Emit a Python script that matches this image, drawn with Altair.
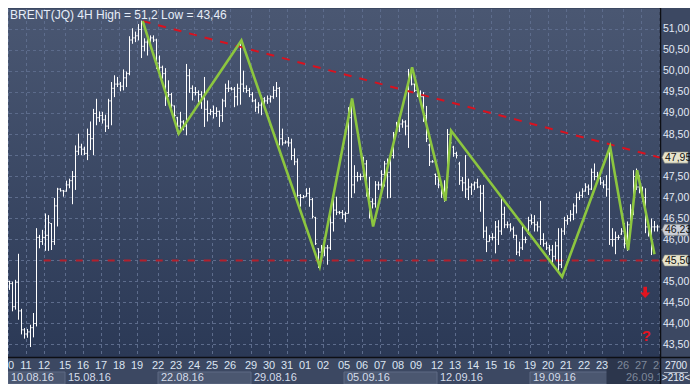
import altair as alt
import pandas as pd

W, H = 652, 348
RP = 30  # right panel width
FONT = "Liberation Sans Narrow, Liberation Sans, Arial"

# ---------------- data (4H bars) ----------------
highs = [45.02,45.00,45.04,45.66,44.35,43.89,43.87,43.97,44.25,46.27,
         46.11,46.23,46.62,46.58,46.39,46.99,47.23,47.22,47.18,47.40,
         47.45,47.63,48.24,48.52,48.28,48.21,48.64,48.81,49.11,49.35,
         49.05,49.04,48.97,49.35,49.75,49.91,49.87,49.75,50.05,50.00,
         50.84,51.03,50.95,51.13,51.21,50.79,50.89,50.86,50.86,50.78,
         50.38,50.14,50.08,49.79,49.49,49.19,48.92,49.04,48.84,50.18,
         50.06,49.67,49.63,49.55,49.53,49.87,49.31,49.11,49.19,49.15,
         49.07,49.35,49.71,49.79,49.63,49.63,49.71,50.71,50.02,49.67,
         49.61,49.51,49.35,49.27,49.43,49.39,49.43,49.43,49.65,49.75,
         49.63,48.64,48.36,48.44,48.40,48.17,47.93,47.08,47.06,47.22,
         47.23,46.99,46.54,45.79,45.87,45.99,45.87,46.58,46.98,47.02,
         46.68,46.70,46.66,49.15,49.35,47.77,47.61,47.57,47.97,47.89,
         47.49,46.98,47.39,47.38,47.65,47.87,47.93,48.05,48.56,48.80,
         48.88,48.86,48.84,50.06,50.06,49.71,49.57,49.55,49.51,49.18,
         48.28,47.89,47.57,47.61,47.30,47.41,48.63,48.56,48.23,48.09,
         47.85,47.49,48.01,47.45,47.34,47.38,47.45,47.30,47.30,46.31,
         46.11,46.15,46.44,46.46,46.99,46.78,46.43,46.39,46.31,46.11,
         45.95,46.35,46.07,46.54,46.60,46.58,46.43,46.92,46.15,45.95,
         45.87,45.87,45.95,46.27,46.27,46.54,46.58,46.70,46.86,47.10,
         47.14,47.22,47.34,47.31,47.69,47.81,47.61,47.49,47.41,47.53,
         48.21,46.27,46.19,46.11,46.27,46.39,46.43,46.84,47.65,47.69,
         47.53,47.26,47.22,46.43,46.50,46.44,46.35,46.39]
lows = [44.80,44.29,44.33,44.09,43.74,43.64,43.66,43.44,43.67,43.93,
        45.79,45.87,45.73,45.73,45.75,45.87,46.31,47.14,47.02,47.14,
        47.22,46.84,47.18,48.01,48.01,48.01,47.89,48.13,48.01,48.72,
        48.80,48.76,48.56,48.63,48.72,49.39,49.63,49.53,49.55,49.63,
        49.91,50.66,50.70,50.74,50.32,50.48,50.38,50.58,50.70,50.06,
        50.02,49.83,49.18,49.39,49.13,48.88,48.52,48.56,48.60,48.48,
        49.49,49.31,49.43,49.26,49.11,48.68,48.81,48.96,48.88,48.92,
        48.68,48.80,49.15,49.51,49.55,49.15,49.19,49.21,49.51,49.49,
        49.39,49.27,49.04,49.00,48.96,49.15,49.23,49.26,49.35,49.39,
        48.24,48.24,48.28,48.21,47.89,47.77,47.02,46.78,46.98,47.02,
        46.78,46.50,45.87,45.32,45.63,45.60,45.40,45.75,46.19,46.58,
        46.60,46.49,46.41,46.62,46.99,47.10,47.38,47.41,47.49,47.02,
        46.50,46.74,46.76,47.18,47.18,47.26,46.98,46.99,47.93,48.52,
        48.56,48.66,48.48,48.18,49.67,49.51,49.39,49.27,48.80,48.32,
        47.75,47.83,47.30,47.22,46.99,46.90,47.22,48.28,47.97,47.93,
        47.30,47.15,46.99,46.94,47.06,47.18,47.22,46.66,46.03,45.70,
        45.95,45.98,45.67,45.87,46.11,46.27,46.27,46.19,46.03,45.63,
        45.60,45.75,45.91,46.11,46.35,46.19,46.19,45.87,45.83,45.75,
        45.63,45.44,45.52,45.20,45.32,46.11,46.35,46.43,46.46,46.62,
        46.94,46.99,47.14,47.06,47.18,47.41,47.38,47.30,47.22,47.02,
        45.87,45.83,45.65,45.99,46.11,45.79,45.73,46.27,46.58,47.18,
        47.10,46.90,46.15,46.07,45.63,46.19,46.19,46.23]
opens = [45.00,44.95,44.40,44.98,44.30,43.85,43.75,43.80,43.90,44.00,
         46.05,45.95,46.05,46.10,46.38,45.95,46.80,47.20,47.16,47.15,
         47.30,47.40,47.50,48.10,48.20,48.15,48.05,48.50,48.40,49.00,
         48.90,48.95,48.85,48.70,49.30,49.60,49.70,49.70,49.65,49.85,
         49.95,50.75,50.80,50.85,51.00,50.60,50.70,50.75,50.80,50.75,
         50.20,50.10,49.95,49.50,49.45,49.18,48.90,48.70,48.80,48.70,
         49.90,49.60,49.50,49.50,49.45,49.35,49.10,49.00,49.05,49.00,
         49.05,48.95,49.30,49.60,49.60,49.58,49.40,49.60,49.70,49.60,
         49.55,49.45,49.30,49.15,49.20,49.35,49.30,49.35,49.40,49.55,
         49.60,48.40,48.30,48.32,48.30,48.00,47.85,47.05,47.00,47.02,
         47.10,46.95,46.52,45.78,45.70,45.75,45.80,45.80,46.40,46.70,
         46.65,46.64,46.60,46.62,48.90,47.30,47.50,47.50,47.50,47.80,
         47.20,46.90,46.85,47.30,47.30,47.55,47.80,47.60,48.00,48.54,
         48.70,48.75,48.80,48.70,49.90,49.70,49.55,49.45,49.40,48.95,
         48.25,47.85,47.55,47.50,47.30,47.10,47.25,48.50,48.20,48.05,
         47.80,47.40,47.35,47.20,47.25,47.30,47.35,47.25,47.10,46.20,
         45.95,46.05,46.05,46.30,46.20,46.60,46.35,46.35,46.25,46.10,
         45.70,45.80,46.00,46.15,46.45,46.40,46.35,46.30,46.00,45.90,
         45.80,45.75,45.60,45.85,45.40,46.20,46.45,46.50,46.60,46.80,
         47.00,47.05,47.15,47.25,47.20,47.60,47.50,47.45,47.35,47.30,
         47.20,46.00,46.00,46.05,46.13,46.20,45.90,46.35,46.70,47.50,
         47.25,47.20,47.00,46.30,46.15,46.30,46.30,46.30]
closes = [44.95,44.40,44.98,44.30,43.85,43.75,43.80,43.90,44.00,46.05,
          45.95,46.05,46.10,46.40,45.95,46.80,47.20,47.16,47.15,47.30,
          47.40,47.50,48.10,48.20,48.15,48.05,48.50,48.40,49.00,48.90,
          48.95,48.85,48.70,49.30,49.60,49.70,49.70,49.65,49.85,49.95,
          50.75,50.80,50.85,51.00,50.60,50.70,50.75,50.80,50.75,50.20,
          50.10,49.95,49.50,49.45,49.20,48.95,48.70,48.80,48.70,49.90,
          49.60,49.50,49.50,49.45,49.35,49.10,49.00,49.05,49.00,49.05,
          48.95,49.30,49.60,49.60,49.58,49.40,49.60,49.70,49.60,49.55,
          49.45,49.30,49.15,49.20,49.35,49.30,49.35,49.40,49.55,49.60,
          48.40,48.30,48.32,48.30,48.00,47.85,47.05,47.00,47.02,47.10,
          46.95,46.55,45.90,45.70,45.75,45.80,45.80,46.40,46.70,46.65,
          46.64,46.60,46.62,48.90,47.30,47.50,47.50,47.50,47.80,47.20,
          46.90,46.85,47.30,47.30,47.55,47.80,47.60,48.00,48.50,48.70,
          48.75,48.80,48.70,49.90,49.70,49.55,49.45,49.40,48.95,48.40,
          47.85,47.85,47.50,47.30,47.10,47.20,48.50,48.30,48.05,48.00,
          47.40,47.35,47.20,47.25,47.30,47.35,47.25,47.10,46.20,45.95,
          46.05,46.05,46.30,46.20,46.60,46.35,46.35,46.25,46.10,45.70,
          45.80,46.00,46.00,46.45,46.40,46.35,46.30,46.00,45.90,45.80,
          45.75,45.60,45.85,45.40,46.20,46.45,46.50,46.60,46.80,47.00,
          47.05,47.15,47.25,47.20,47.60,47.50,47.45,47.35,47.30,47.20,
          46.00,46.00,46.05,46.05,46.20,45.90,46.35,46.70,47.50,47.25,
          47.20,47.00,46.30,46.15,46.30,46.30,46.30,46.23]

day_pos = [0, 6, 12, 19, 25, 31, 37, 43, 50, 56, 62, 68, 74, 81, 87, 93, 99, 105,
           112, 118, 124, 130, 136, 143, 149, 155, 161, 167, 174, 180, 186, 192, 198,
           205, 211, 217]
day_text = ["10", "11", "12", "15", "16", "17", "18", "19", "22", "23", "24", "25", "26",
            "29", "30", "31", "01", "02", "05", "06", "07", "08", "09", "12", "13", "14",
            "15", "16", "19", "20", "21", "22", "23", "26", "27", "28"]

week_start = [0, 19, 50, 81, 112, 143, 174, 205]
week_end = [19, 50, 81, 112, 143, 174, 205, 218]
week_text = ["10.08.16", "15.08.16", "22.08.16", "29.08.16", "05.09.16", "12.09.16",
             "19.09.16", "26.09.16"]
boxed_weeks = ["10.08.16", "22.08.16", "05.09.16", "19.09.16"]

price_ticks = [43.5, 44.0, 44.5, 45.0, 45.5, 46.0, 46.5, 47.0, 47.5, 48.0, 48.5,
               49.0, 49.5, 50.0, 50.5, 51.0]
covered_ticks = [48.0, 45.5]   # axis labels hidden under the price tags

zig_pos = [44.9, 56.9, 77.8, 103.9, 114.7, 121.7, 134.7, 145.8, 147.7, 184.7,
           200.7, 206.7, 209.7, 215.5]
zig_price = [51.2, 48.52, 50.74, 45.36, 49.36, 46.31, 50.10, 46.92, 48.59, 45.11,
             48.21, 45.75, 47.65, 45.65]

res_pos = [44.9, 217.3]
res_price = [51.2, 47.95]
sup_from, sup_to, sup_price = [11.9], [217.3], [45.5]

tag_price = [47.95, 46.23, 45.50]
tag_text = ["47,95", "46,23", "45,50"]

title_text = ["BRENT(JQ) 4H High = 51,2 Low = 43,46"]
corner_text = ["2700", ">218<"]
arrow_pos, arrow_price = [212.4], [44.74]
qmark_pos, qmark_price = [212.8], [43.70]
future_from = [199.5]

# ---------------- frames ----------------
bars = pd.DataFrame({"high": highs, "low": lows, "open": opens, "close": closes})
bars["pos"] = bars.index + 0.5
bars["pl"] = bars["pos"] - 0.4
bars["pr"] = bars["pos"] + 0.4

XMAX = W / 3.0
xsc = alt.Scale(domain=[0, XMAX], nice=False, zero=False)
ysc = alt.Scale(domain=[43.202381, 51.488095], nice=False, zero=False)

one = pd.DataFrame({"a": [0]})

bg = alt.Chart(one).mark_rect(
    color=alt.LinearGradient(gradient="linear", x1=0, x2=0, y1=0, y2=1,
                             stops=[alt.GradientStop(color="#4a5772", offset=0),
                                    alt.GradientStop(color="#2b3956", offset=1)])
).encode(x=alt.value(0), x2=alt.value(W), y=alt.value(0), y2=alt.value(H))

ticks_df = pd.DataFrame({"p": price_ticks})
hgrid = alt.Chart(ticks_df).mark_rule(
    color="#5d6c8c", strokeDash=[3, 3], strokeWidth=1
).encode(y=alt.Y("p:Q", scale=ysc, axis=None))

ylabels = alt.Chart(ticks_df).transform_filter(
    ~alt.FieldOneOfPredicate(field="p", oneOf=covered_ticks)
).transform_calculate(
    lab="replace(format(datum.p, '.2f'), '.', ',')"
).mark_text(align="left", baseline="middle", font=FONT, fontSize=10.5, color="#e2eaf6").encode(
    x=alt.value(W + 3), y=alt.Y("p:Q", scale=ysc, axis=None), text="lab:N")

days = pd.DataFrame({"pos": day_pos, "txt": day_text})
vgrid = alt.Chart(days).mark_rule(
    color="#5d6c8c", strokeDash=[3, 3], strokeWidth=1, xOffset=0.5
).encode(x=alt.X("pos:Q", scale=xsc, axis=None))

support = alt.Chart(pd.DataFrame({"a": sup_from, "b": sup_to, "p": sup_price})).mark_rule(
    color="#b3202c", strokeDash=[7, 9], strokeWidth=2
).encode(x=alt.X("a:Q", scale=xsc, axis=None), x2="b:Q", y=alt.Y("p:Q", scale=ysc, axis=None))

hl = alt.Chart(bars).mark_rule(color="#ffffff", strokeWidth=1).encode(
    x=alt.X("pos:Q", scale=xsc, axis=None),
    y=alt.Y("low:Q", scale=ysc, axis=None), y2="high:Q")
otick = alt.Chart(bars).mark_rule(color="#ffffff", strokeWidth=1).encode(
    x=alt.X("pl:Q", scale=xsc, axis=None), x2="pos:Q",
    y=alt.Y("open:Q", scale=ysc, axis=None))
ctick = alt.Chart(bars).mark_rule(color="#ffffff", strokeWidth=1).encode(
    x=alt.X("pos:Q", scale=xsc, axis=None), x2="pr:Q",
    y=alt.Y("close:Q", scale=ysc, axis=None))

resist = alt.Chart(pd.DataFrame({"pos": res_pos, "p": res_price})).mark_line(
    color="#d8121f", strokeDash=[8, 8], strokeWidth=2
).encode(x=alt.X("pos:Q", scale=xsc, axis=None), y=alt.Y("p:Q", scale=ysc, axis=None))

zig = alt.Chart(pd.DataFrame({"pos": zig_pos, "p": zig_price, "k": list(range(len(zig_pos)))})).mark_line(
    color="#8cc63f", strokeWidth=2.6, strokeJoin="miter"
).encode(x=alt.X("pos:Q", scale=xsc, axis=None), y=alt.Y("p:Q", scale=ysc, axis=None),
         order="k:Q")

# right-axis price tags
tags = pd.DataFrame({"p": tag_price, "txt": tag_text})
tag_shape = "M-1,0L-0.8,-0.43L1,-0.43L1,0.43L-0.8,0.43Z"
tag_bg = alt.Chart(tags).mark_point(
    shape=tag_shape, filled=True, size=676, stroke="#7c7f78", strokeWidth=0.6, opacity=1
).encode(
    x=alt.value(W + 15), y=alt.Y("p:Q", scale=ysc, axis=None),
    fill=alt.Fill("txt:N", scale=alt.Scale(domain=tag_text,
                                           range=["#e6e4cc", "#c9ced8", "#e6e4cc"]),
                  legend=None))
tag_tx = alt.Chart(tags).mark_text(
    align="left", baseline="middle", font=FONT, fontSize=10.5, color="#111111"
).encode(x=alt.value(W + 5), y=alt.Y("p:Q", scale=ysc, axis=None), text="txt:N")

# bottom axis: week boxes, future region, labels
weeks = pd.DataFrame({"a": week_start, "b": week_end, "txt": week_text})
wboxes = alt.Chart(weeks).transform_filter(
    alt.FieldOneOfPredicate(field="txt", oneOf=boxed_weeks)
).mark_rect(fill="#4b5770", stroke="#5f6b84", strokeWidth=1).encode(
    x=alt.X("a:Q", scale=xsc, axis=None), x2="b:Q",
    y=alt.value(H + 15), y2=alt.value(H + 27))
future = alt.Chart(pd.DataFrame({"a": future_from, "b": [XMAX]})).mark_rect(
    fill="#2c364c").encode(
    x=alt.X("a:Q", scale=xsc, axis=None), x2="b:Q", y=alt.value(H + 1), y2=alt.value(H + 27))
wtext = alt.Chart(weeks).mark_text(
    align="left", baseline="middle", font=FONT, fontSize=11, dx=3
).encode(
    x=alt.X("a:Q", scale=xsc, axis=None), y=alt.value(H + 21), text="txt:N",
    color=alt.condition(alt.datum.a > 200, alt.value("#7e889a"), alt.value("#d4dcea")))
dtext = alt.Chart(days).mark_text(
    align="center", baseline="middle", font=FONT, fontSize=11
).encode(
    x=alt.X("pos:Q", scale=xsc, axis=None), y=alt.value(H + 9), text="txt:N",
    color=alt.condition(alt.datum.pos > 200, alt.value("#7e889a"), alt.value("#dbe4f1")))

# right panel cover under the price column (hides text running past the plot edge)
rpanel = alt.Chart(one).mark_rect(fill="#3c4862").encode(
    x=alt.value(W), x2=alt.value(W + RP), y=alt.value(H), y2=alt.value(H + 27))

title = alt.Chart(pd.DataFrame({"t": title_text})).mark_text(
    align="left", baseline="middle", font=FONT, fontSize=12, color="#e6edf8"
).encode(x=alt.value(2), y=alt.value(5.5), text="t:N")

arrow_shape = "M-0.32,-1L0.32,-1L0.32,0L0.9,0L0,1L-0.9,0L-0.32,0Z"
arrow = alt.Chart(pd.DataFrame({"pos": arrow_pos, "p": arrow_price})).mark_point(
    shape=arrow_shape, filled=True, size=130, color="#e3141f", opacity=1
).encode(x=alt.X("pos:Q", scale=xsc, axis=None), y=alt.Y("p:Q", scale=ysc, axis=None))
qmark = alt.Chart(pd.DataFrame({"pos": qmark_pos, "p": qmark_price, "t": ["?"]})).mark_text(
    font="Liberation Sans, Arial", fontSize=15, fontWeight="bold", color="#e3141f",
    baseline="middle"
).encode(x=alt.X("pos:Q", scale=xsc, axis=None), y=alt.Y("p:Q", scale=ysc, axis=None), text="t:N")

vborder = alt.Chart(one).mark_rule(color="#0d0f14", strokeWidth=1.5).encode(
    x=alt.value(W + 0.5), y=alt.value(-1), y2=alt.value(H + 27))
hborder = alt.Chart(one).mark_rule(color="#0d0f14", strokeWidth=1.5).encode(
    x=alt.value(0), x2=alt.value(W + RP), y=alt.value(H + 0.5))

corner = alt.Chart(pd.DataFrame({"t": corner_text, "yy": [H + 9, H + 21]})).mark_text(
    align="center", baseline="middle", font=FONT, fontSize=10, color="#e6edf8"
).encode(x=alt.value(W + 16), y=alt.Y("yy:Q", scale=None), text="t:N")
corner_rule = alt.Chart(one).mark_rule(color="#aab3c3", strokeWidth=1).encode(
    x=alt.value(W + 4), x2=alt.value(W + 28), y=alt.value(H + 15.5))

chart = alt.layer(
    bg, hgrid, vgrid, support, hl, otick, ctick, resist, zig,
    wboxes, future, wtext, dtext, rpanel, title, arrow, qmark,
    ylabels, vborder, hborder, tag_bg, tag_tx, corner, corner_rule
).properties(
    width=W, height=H,
    autosize=alt.AutoSizeParams(type="none"),
    padding={"left": 0, "top": 1, "right": RP, "bottom": 27},
    background="#3c4862"
).configure_view(stroke=None)

chart.save("out.html", embed_options={"renderer": "svg", "actions": False})
